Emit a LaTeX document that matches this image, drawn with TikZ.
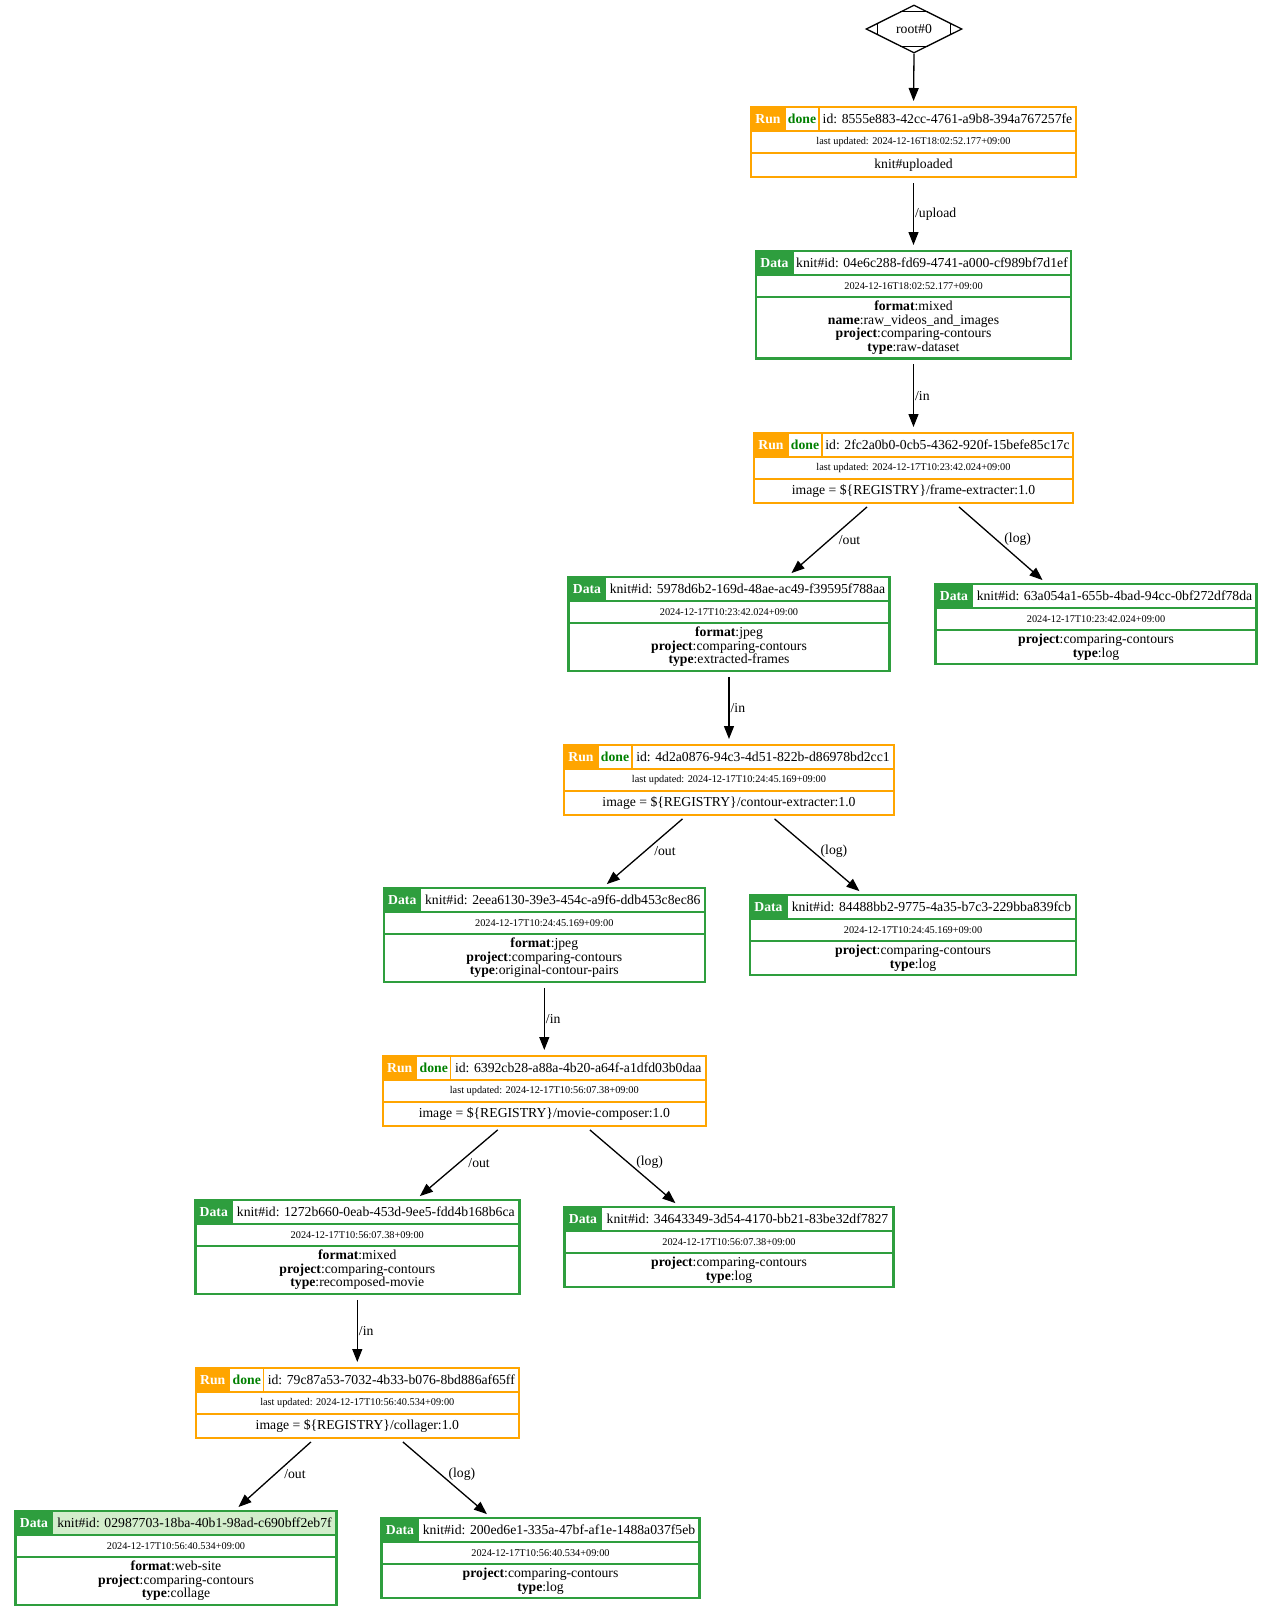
\documentclass[tikz,border=0pt]{standalone}
\usepackage{fontspec}
\setmainfont{Liberation Serif}
\usetikzlibrary{shapes.geometric, arrows.meta, positioning, calc}

\definecolor{runorange}{HTML}{FFA500}
\definecolor{datagreen}{HTML}{2E9E3E}
\definecolor{donegreen}{HTML}{008000}
\definecolor{pickgreen}{HTML}{D2EDCB}

\newcommand{\gvfont}{\fontsize{13.7}{13.6}\selectfont}
\newcommand{\gvsmall}{\fontsize{10.3}{11}\selectfont}

\tikzset{
  tablebox/.style={inner sep=0pt, outer sep=0pt, anchor=north},
  cell/.style={draw, line width=1.2pt, inner sep=0pt, outer sep=0pt, anchor=north west, font=\gvfont, align=center},
  tagcell/.style={cell, text=white, font=\gvfont\bfseries},
  flow/.style={-{Triangle[length=13pt,width=10pt]}, line width=1.3pt, shorten <=6pt, shorten >=6pt},
  lbl/.style={midway, right=1pt, inner sep=0pt, font=\gvfont},
  lout/.style={lbl, right=9pt},
  llog/.style={lbl, right=3pt, yshift=4pt},
}

% run table: name, top centre, width, id, updated, body
\newcommand{\runtable}[6]{%
  \node[tablebox, minimum width=#3, minimum height=70] (#1) at #2 {};
  \node[tagcell, draw=runorange, fill=runorange, minimum width=34, minimum height=24] (#1-tag) at (#1.north west) {Run};
  \node[cell, draw=runorange, minimum width=34, minimum height=24, text=donegreen, font=\gvfont\bfseries] (#1-state) at (#1-tag.north east) {done};
  \node[cell, draw=runorange, minimum width=#3-68, minimum height=24] (#1-id) at (#1-state.north east) {id: #4};
  \node[cell, draw=runorange, minimum width=#3, minimum height=22, font=\gvsmall] (#1-date) at (#1-tag.south west) {last updated: #5};
  \node[cell, draw=runorange, minimum width=#3, minimum height=24] (#1-body) at (#1-date.south west) {#6};
  \draw[runorange, line width=2.5pt] (#1.north west) rectangle (#1.south east);
}

% data table: [id fill], name, top centre, width, lines, id, date, body
\newcommand{\datatable}[8][white]{%
  \node[tablebox, minimum width=#4, minimum height=46+#5*13.6+7] (#2) at #3 {};
  \node[tagcell, draw=datagreen, fill=datagreen, minimum width=37, minimum height=24] (#2-tag) at (#2.north west) {Data};
  \node[cell, draw=datagreen, fill=#1, minimum width=#4-37, minimum height=24] (#2-id) at (#2-tag.north east) {knit\#id: #6};
  \node[cell, draw=datagreen, minimum width=#4, minimum height=22, font=\gvsmall] (#2-date) at (#2-tag.south west) {#7};
  \node[cell, draw=datagreen, minimum width=#4, minimum height=#5*13.6+7] (#2-body) at (#2-date.south west) {#8};
  \draw[datagreen, line width=2.5pt] (#2.north west) rectangle (#2.south east);
}

\begin{document}
\begin{tikzpicture}[x=1pt, y=-1pt]
\useasboundingbox (0,0) rectangle (1273,1617);

%Declare nodes.
\node[draw, diamond, shape aspect=2, minimum width=96, minimum height=48, inner sep=0pt, line width=1.3pt, font=\gvfont] (root) at (914,29) {root\#0};
\draw[line width=1.3pt] ($(root.west)!0.25!(root.north)$) -- ($(root.west)!0.25!(root.south)$);
\draw[line width=1.3pt] ($(root.east)!0.25!(root.north)$) -- ($(root.east)!0.25!(root.south)$);
\draw[line width=1.3pt] ($(root.north)!0.29!(root.west)$) -- ($(root.north)!0.29!(root.east)$);
\draw[line width=1.3pt] ($(root.south)!0.29!(root.west)$) -- ($(root.south)!0.29!(root.east)$);

\runtable{run1}{(913.5,107)}{325}{8555e883-42cc-4761-a9b8-394a767257fe}{2024-12-16T18:02:52.177+09:00}{knit\#uploaded}
\datatable{data1}{(913.5,251)}{315}{4}{04e6c288-fd69-4741-a000-cf989bf7d1ef}{2024-12-16T18:02:52.177+09:00}{\textbf{format}:mixed\\\textbf{name}:raw\_videos\_and\_images\\\textbf{project}:comparing-contours\\\textbf{type}:raw-dataset}

\runtable{run2}{(913.5,433)}{319}{2fc2a0b0-0cb5-4362-920f-15befe85c17c}{2024-12-17T10:23:42.024+09:00}{image = \$\{REGISTRY\}/frame-extracter:1.0}
\datatable{data2}{(729,577)}{321}{3}{5978d6b2-169d-48ae-ac49-f39595f788aa}{2024-12-17T10:23:42.024+09:00}{\textbf{format}:jpeg\\\textbf{project}:comparing-contours\\\textbf{type}:extracted-frames}
\datatable{log1}{(1096,584)}{321}{2}{63a054a1-655b-4bad-94cc-0bf272df78da}{2024-12-17T10:23:42.024+09:00}{\textbf{project}:comparing-contours\\\textbf{type}:log}

\runtable{run3}{(729,745)}{330}{4d2a0876-94c3-4d51-822b-d86978bd2cc1}{2024-12-17T10:24:45.169+09:00}{image = \$\{REGISTRY\}/contour-extracter:1.0}
\datatable{data3}{(544.3,888)}{321}{3}{2eea6130-39e3-454c-a9f6-ddb453c8ec86}{2024-12-17T10:24:45.169+09:00}{\textbf{format}:jpeg\\\textbf{project}:comparing-contours\\\textbf{type}:original-contour-pairs}
\datatable{log2}{(913,895)}{326}{2}{84488bb2-9775-4a35-b7c3-229bba839fcb}{2024-12-17T10:24:45.169+09:00}{\textbf{project}:comparing-contours\\\textbf{type}:log}

\runtable{run4}{(544.3,1056)}{323}{6392cb28-a88a-4b20-a64f-a1dfd03b0daa}{2024-12-17T10:56:07.38+09:00}{image = \$\{REGISTRY\}/movie-composer:1.0}
\datatable{data4}{(357.3,1200)}{324}{3}{1272b660-0eab-453d-9ee5-fdd4b168b6ca}{2024-12-17T10:56:07.38+09:00}{\textbf{format}:mixed\\\textbf{project}:comparing-contours\\\textbf{type}:recomposed-movie}
\datatable{log3}{(729,1207)}{329}{2}{34643349-3d54-4170-bb21-83be32df7827}{2024-12-17T10:56:07.38+09:00}{\textbf{project}:comparing-contours\\\textbf{type}:log}

\runtable{run5}{(357.3,1368)}{323}{79c87a53-7032-4b33-b076-8bd886af65ff}{2024-12-17T10:56:40.534+09:00}{image = \$\{REGISTRY\}/collager:1.0}
\datatable[pickgreen]{data5}{(176,1511)}{321}{3}{02987703-18ba-40b1-98ad-c690bff2eb7f}{2024-12-17T10:56:40.534+09:00}{\textbf{format}:web-site\\\textbf{project}:comparing-contours\\\textbf{type}:collage}
\datatable{log4}{(540.5,1518)}{318}{2}{200ed6e1-335a-47bf-af1e-1488a037f5eb}{2024-12-17T10:56:40.534+09:00}{\textbf{project}:comparing-contours\\\textbf{type}:log}

%Setup edges.
\draw[flow, shorten <=0pt] (root.south) -- (run1.north);
\draw[flow] (run1.south) -- node[lbl] {/upload} (data1.north);
\draw[flow] (data1.south) -- node[lbl] {/in} (run2.north);
\draw[flow] ([xshift=-42pt]run2.south) -- node[lout] {/out} ([xshift=58pt]data2.north);
\draw[flow] ([xshift=41pt]run2.south) -- node[llog] {(log)} ([xshift=-49pt]log1.north);
\draw[flow] (data2.south) -- node[lbl] {/in} (run3.north);
\draw[flow] ([xshift=-42pt]run3.south) -- node[lout] {/out} ([xshift=58pt]data3.north);
\draw[flow] ([xshift=41pt]run3.south) -- node[llog] {(log)} ([xshift=-49pt]log2.north);
\draw[flow] (data3.south) -- node[lbl] {/in} (run4.north);
\draw[flow] ([xshift=-42pt]run4.south) -- node[lout] {/out} ([xshift=58pt]data4.north);
\draw[flow] ([xshift=41pt]run4.south) -- node[llog] {(log)} ([xshift=-49pt]log3.north);
\draw[flow] (data4.south) -- node[lbl] {/in} (run5.north);
\draw[flow] ([xshift=-42pt]run5.south) -- node[lout] {/out} ([xshift=58pt]data5.north);
\draw[flow] ([xshift=41pt]run5.south) -- node[llog] {(log)} ([xshift=-49pt]log4.north);

\end{tikzpicture}
\end{document}
